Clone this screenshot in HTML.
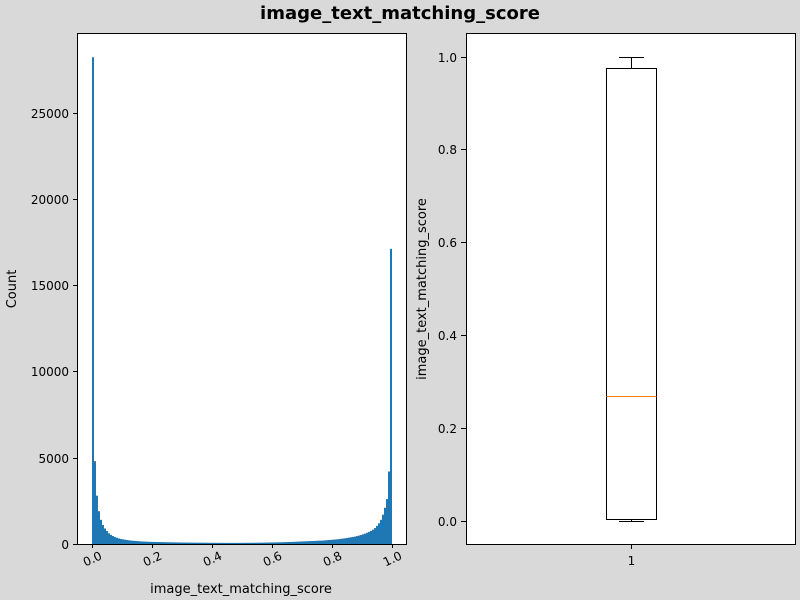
<!DOCTYPE html>
<html><head><meta charset="utf-8"><style>
body{margin:0;background:#d9d9d9;overflow:hidden;}
svg{display:block;}
svg text{font-family:"DejaVu Sans","Liberation Sans",sans-serif;}
</style></head><body>
<svg id="fig" width="800" height="600" xmlns="http://www.w3.org/2000/svg">
<rect width="800" height="600" fill="#d9d9d9"/>
<text x="400" y="19" text-anchor="middle" font-size="18" font-weight="bold" fill="#000">image_text_matching_score</text>
<rect x="78" y="33" width="329" height="511" fill="#fff"/>
<rect x="466" y="33" width="330" height="511" fill="#fff"/>
<g id="hist"></g>
<g id="box"></g>
<g id="axes"></g>
<rect x="77.5" y="33.5" width="329" height="511" fill="none" stroke="#000" stroke-width="1"/>
<rect x="466.5" y="33.5" width="329" height="511" fill="none" stroke="#000" stroke-width="1"/>
<text x="241" y="593" text-anchor="middle" font-size="13">image_text_matching_score</text>
<text transform="translate(16,289) rotate(-90)" text-anchor="middle" font-size="13">Count</text>
<text transform="translate(426,289) rotate(-90)" text-anchor="middle" font-size="13">image_text_matching_score</text>
</svg>
<script>
const histCounts = [28200,4800,2800,1900,1400,1100,900,750,620,530,460,400,360,320,290,270,250,230,215,200,190,180,170,160,150,145,140,135,130,125,
120,118,115,112,110,108,105,102,100,98,
96,94,92,90,88,86,85,84,82,80,
79,78,77,76,75,74,73,72,71,70,
70,69,69,68,68,67,67,66,66,66,
66,66,67,67,68,68,69,70,71,72,
73,74,75,76,78,80,82,84,86,88,
90,92,95,98,100,104,108,112,116,120,
125,130,135,140,145,150,155,160,165,170,
175,180,185,190,195,200,210,220,230,240,
250,260,270,285,300,315,330,350,370,390,410,430,460,490,520,560,600,650,700,760,830,920,1050,1200,1400,1700,2100,2600,4200,17100];
const histXTicks = [0.0,0.2,0.4,0.6,0.8,1.0];
const histXTickLabels = ["0.0","0.2","0.4","0.6","0.8","1.0"];
const histYTicks = [0,5000,10000,15000,20000,25000];
const boxStats = [0.0, 0.005, 0.27, 0.975, 1.0]; // whislo, q1, median, q3, whishi
const boxYTicks = [0.0,0.2,0.4,0.6,0.8,1.0];
const boxCategories = ["1"];

const NS="http://www.w3.org/2000/svg";
function mk(tag,attrs,parent,txt){const e=document.createElementNS(NS,tag);for(const k in attrs)e.setAttribute(k,attrs[k]);if(txt!==undefined)e.textContent=txt;parent.appendChild(e);return e;}
const hx=v=>92+300*v;
const hy=c=>544-c*(86.3/5000);
const by=v=>521-464.5*v;
const px=v=>Math.round(v)+0.5;
const hist=document.getElementById('hist'), box=document.getElementById('box'), axes=document.getElementById('axes');
const bw=1/histCounts.length;
histCounts.forEach((c,i)=>{
  const x0=hx(i*bw), x1=hx((i+1)*bw);
  const r=mk('rect',{x:x0,y:hy(c),width:x1-x0,height:544-hy(c),fill:'#1f77b4'},hist);
  
  
});
histXTicks.forEach((t,i)=>{
  const x=px(hx(t));
  const l=mk('line',{x1:x,x2:x,y1:544,y2:548,stroke:'#000'},axes);
  
  
  const tx=mk('text',{x:x,y:563,'font-size':12,'text-anchor':'middle',transform:`rotate(-25 ${x} 559)`},axes,histXTickLabels[i]);
  
  
});
histYTicks.forEach(t=>{
  const y=px(hy(t));
  const l=mk('line',{x1:73,x2:78,y1:y,y2:y,stroke:'#000'},axes);
  
  
  const tx=mk('text',{x:69,y:y+4.5,'font-size':12,'text-anchor':'end'},axes,String(t));
  
  
});
boxYTicks.forEach(t=>{
  const y=px(by(t));
  const l=mk('line',{x1:461,x2:466,y1:y,y2:y,stroke:'#000'},axes);
  
  
  const tx=mk('text',{x:457,y:y+4.5,'font-size':12,'text-anchor':'end'},axes,t.toFixed(1));
  
  
});
const cx=631.5;
let l=mk('line',{x1:cx,x2:cx,y1:544,y2:549,stroke:'#000'},axes);


let t=mk('text',{x:cx,y:565,'font-size':12,'text-anchor':'middle'},axes,boxCategories[0]);


const [wlo,q1,med,q3,whi]=boxStats;
let w1=mk('line',{x1:cx,x2:cx,y1:px(by(q1)),y2:px(by(wlo)),stroke:'#000'},box);


let w2=mk('line',{x1:cx,x2:cx,y1:px(by(q3)),y2:px(by(whi)),stroke:'#000'},box);


let c1=mk('line',{x1:cx-12.5,x2:cx+12.5,y1:px(by(wlo)),y2:px(by(wlo)),stroke:'#000'},box);


let c2=mk('line',{x1:cx-12.5,x2:cx+12.5,y1:px(by(whi)),y2:px(by(whi)),stroke:'#000'},box);


let b=mk('rect',{x:cx-25,y:px(by(q3)),width:50,height:px(by(q1))-px(by(q3)),fill:'none',stroke:'#000'},box);


let m=mk('line',{x1:cx-25,x2:cx+25,y1:px(by(med)),y2:px(by(med)),stroke:'#ff7f0e'},box);


</script>
</body></html>
